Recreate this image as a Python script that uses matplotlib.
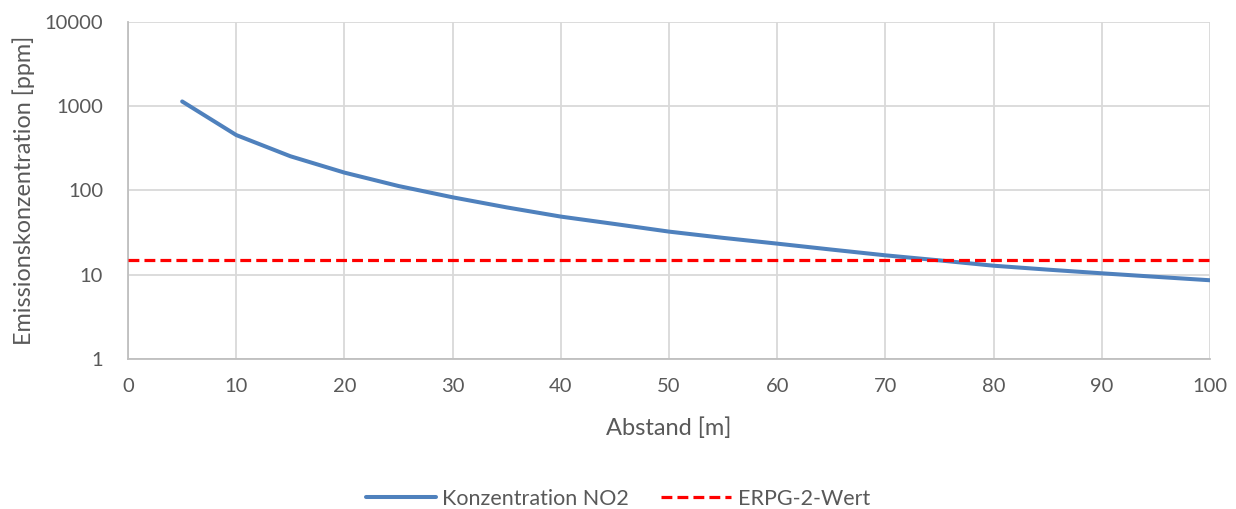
import matplotlib.pyplot as plt
from matplotlib.ticker import FixedLocator, FixedFormatter, NullLocator

# Distance from source [m] and NO2 concentration [ppm]
abstand = [5, 10, 15, 20, 25, 30, 35, 40, 45, 50,
           55, 60, 65, 70, 75, 80, 85, 90, 95, 100]
konzentration = [1140, 455, 255, 163, 113, 83, 63, 49, 40, 32.5,
                 27.4, 23.4, 19.9, 17.0, 14.8, 12.8, 11.5, 10.4, 9.45, 8.6]

# ERPG-2 threshold for NO2
erpg_x = [0, 100]
erpg_wert = [15, 15]

x_ticks = list(range(0, 101, 10))
y_ticks = [1, 10, 100, 1000, 10000]
y_labels = ["1", "10", "100", "1000", "10000"]

text_color = "#595959"
grid_color = "#D9D9D9"

plt.rcParams["font.family"] = ["Lato", "DejaVu Sans"]

fig = plt.figure(figsize=(12.36, 5.09), dpi=100)
ax = fig.add_axes([0.1036, 0.2947, 0.8754, 0.6621])

ax.plot(abstand, konzentration, color="#4F81BD", lw=2.9,
        solid_capstyle="round", solid_joinstyle="round",
        label="Konzentration NO2", zorder=3)
ax.plot(erpg_x, erpg_wert, color="#FF0000", lw=2.3, dashes=(3.4, 1.6),
        label="ERPG-2-Wert", zorder=4)

ax.set_yscale("log")
ax.set_xlim(0, 100)
ax.set_ylim(1, 10000)
ax.xaxis.set_major_locator(FixedLocator(x_ticks))
ax.yaxis.set_major_locator(FixedLocator(y_ticks))
ax.yaxis.set_major_formatter(FixedFormatter(y_labels))
ax.yaxis.set_minor_locator(NullLocator())

ax.grid(True, color=grid_color, lw=1.3, zorder=0)
ax.set_axisbelow(True)
for side in ("top", "right"):
    ax.spines[side].set_visible(False)
for side in ("left", "bottom"):
    ax.spines[side].set_color("#BFBFBF")
    ax.spines[side].set_linewidth(1.3)

ax.tick_params(axis="both", length=0, labelsize=14.5, colors=text_color)
ax.tick_params(axis="x", pad=14)
ax.tick_params(axis="y", pad=18)

ax.set_xlabel("Abstand [m]", fontsize=17, color=text_color, labelpad=16)
ax.set_ylabel("Emissionskonzentration [ppm]", fontsize=16.8, color=text_color, labelpad=7)

leg = fig.legend(loc="center", bbox_to_anchor=(0.5, 1 - 499 / 509), ncol=2,
                 frameon=False, fontsize=15.5, handlelength=3.25,
                 columnspacing=1.5, handletextpad=0.3)
for t in leg.get_texts():
    t.set_color(text_color)

fig.savefig("out.png", dpi=100)
